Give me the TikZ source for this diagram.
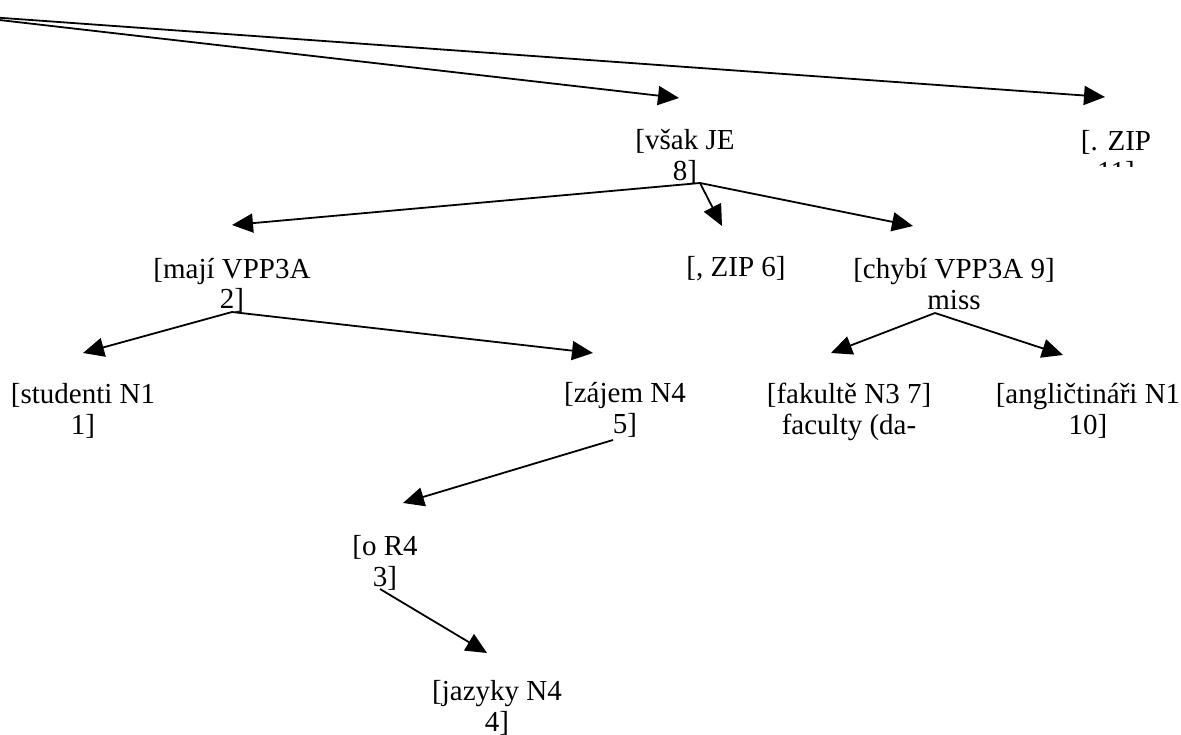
\documentclass[tikz,border=0pt]{standalone}
\usepackage{fontspec}
\setmainfont{Liberation Serif}
\usetikzlibrary{arrows.meta}
\tikzset{
  lbl/.style={inner sep=0pt, anchor=base, align=center, font=\fontsize{29}{31}\selectfont},
  conn/.style={line width=1.8pt, -{Triangle[length=21pt,width=19pt]}}
}
\begin{document}
\begin{tikzpicture}[x=1pt,y=-1pt]
\useasboundingbox (0,0) rectangle (1181,735);
% nodes (positioned at the baseline of their last line)
\node[lbl] (vsak) at (685,181) {[však JE\\8]};
\begin{scope}
\clip (1000,0) rectangle (1181,167);
\node[lbl] (zip11) at (1116,182) {[. ZIP\\11]};
\end{scope}
\node[lbl] (maji) at (232,309) {[mají VPP3A\\2]};
\node[lbl] (zip6) at (736,277) {[, ZIP 6]};
\node[lbl] (chybi) at (954,310) {[chybí VPP3A 9]\\miss};
\node[lbl] (studenti) at (83,434) {[studenti N1\\1]};
\node[lbl] (zajem) at (625,433) {[zájem N4\\5]};
\node[lbl] (fakulte) at (849,434) {[fakultě N3 7]\\faculty (da-};
\node[lbl] (anglic) at (1088,434) {[angličtináři N1\\10]};
\node[lbl] (oR4) at (385,586) {[o R4\\3]};
\node[lbl] (jazyky) at (497,731) {[jazyky N4\\4]};
% ports
\coordinate (root) at (-53,14);
\coordinate (vsakIn) at (679,98);
\coordinate (zip11In) at (1105,97);
\coordinate (vsakOut) at (700,183);
\coordinate (majiIn) at (232,225);
\coordinate (zip6In) at (722,226);
\coordinate (chybiIn) at (913,226);
\coordinate (majiOut) at (232,312);
\coordinate (studentiIn) at (83,353);
\coordinate (zajemIn) at (593,353);
\coordinate (chybiOut) at (935,313);
\coordinate (fakulteIn) at (831,353);
\coordinate (anglicIn) at (1063,355);
\coordinate (zajemOut) at (613,440);
\coordinate (oR4In) at (403,503);
\coordinate (oR4Out) at (380,589);
\coordinate (jazykyIn) at (487,653);
% connectors
\draw[conn] (root) -- (vsakIn);
\draw[conn] (root) -- (zip11In);
\draw[conn] (vsakOut) -- (majiIn);
\draw[conn] (vsakOut) -- (zip6In);
\draw[conn] (vsakOut) -- (chybiIn);
\draw[conn] (majiOut) -- (studentiIn);
\draw[conn] (majiOut) -- (zajemIn);
\draw[conn] (chybiOut) -- (fakulteIn);
\draw[conn] (chybiOut) -- (anglicIn);
\draw[conn] (zajemOut) -- (oR4In);
\draw[conn] (oR4Out) -- (jazykyIn);
\end{tikzpicture}
\end{document}
